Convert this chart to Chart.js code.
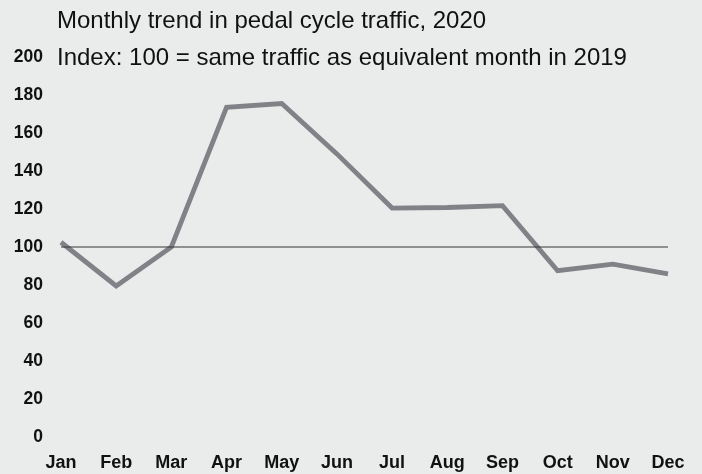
<!DOCTYPE html>
<html>
<head>
<meta charset="utf-8">
<script src="https://cdn.jsdelivr.net/npm/chart.js@4"></script>
<style>
  html, body { margin: 0; padding: 0; background: #e9eceb; }
  #wrap { width: 702px; height: 474px; }
</style>
</head>
<body>
<div id="wrap"><canvas id="c" width="702" height="474"></canvas></div>
<script>
const titleText = "Monthly trend in pedal cycle traffic, 2020";
const subtitleText = "Index: 100 = same traffic as equivalent month in 2019";
const months = ["Jan","Feb","Mar","Apr","May","Jun","Jul","Aug","Sep","Oct","Nov","Dec"];
const cycleIndex = [102.5, 79.5, 100, 173.5, 175.5, 149, 120.5, 120.8, 121.8, 87.5, 91, 85.8];
const baseline = [100, 100, 100, 100, 100, 100, 100, 100, 100, 100, 100, 100];
const yTicks = [0, 20, 40, 60, 80, 100, 120, 140, 160, 180, 200];

const bgPlugin = {
  id: 'bg',
  beforeDraw(chart) {
    const ctx = chart.ctx;
    ctx.save();
    ctx.fillStyle = '#e9eceb';
    ctx.fillRect(0, 0, chart.width, chart.height);
    ctx.restore();
  }
};

const titlePlugin = {
  id: 'titles',
  afterDraw(chart) {
    const ctx = chart.ctx;
    const area = chart.chartArea;
    const yScale = chart.scales.y;
    ctx.save();
    ctx.fillStyle = '#111111';
    ctx.font = '24px "Liberation Sans", Arial, sans-serif';
    ctx.textAlign = 'left';
    ctx.textBaseline = 'middle';
    const x = area.left - 4;
    ctx.fillText(subtitleText, x, yScale.getPixelForValue(200) + 1);
    ctx.fillText(titleText, x, yScale.getPixelForValue(200) - 36);
    ctx.restore();
  }
};

new Chart(document.getElementById('c'), {
  type: 'line',
  data: {
    labels: months,
    datasets: [
      {
        label: 'Baseline',
        data: baseline,
        borderColor: '#353737',
        borderWidth: 1.1,
        pointRadius: 0,
        fill: false,
        order: 0
      },
      {
        label: 'Pedal cycles',
        data: cycleIndex,
        borderColor: '#808287',
        borderWidth: 4.8,
        pointRadius: 0,
        borderJoinStyle: 'miter',
        borderCapStyle: 'butt',
        tension: 0,
        fill: false,
        order: 1
      }
    ]
  },
  options: {
    responsive: false,
    animation: false,
    devicePixelRatio: 1,
    layout: { padding: { left: 0, right: 34, top: 57, bottom: 0 } },
    plugins: {
      legend: { display: false },
      title: { display: false },
      tooltip: { enabled: false }
    },
    scales: {
      x: {
        offset: false,
        grid: { display: false, drawTicks: false },
        border: { display: false },
        ticks: {
          color: '#111111',
          padding: 15,
          maxRotation: 0,
          autoSkip: false,
          font: { family: '"Liberation Sans", Arial, sans-serif', size: 18, weight: 'bold' }
        },
        afterFit(scale) { scale.height = 37; }
      },
      y: {
        min: 0,
        max: 200,
        afterBuildTicks(scale) { scale.ticks = yTicks.map(v => ({ value: v })); },
        grid: { display: false, drawTicks: false },
        border: { display: false },
        ticks: {
          color: '#111111',
          padding: 18,
          font: { family: '"Liberation Sans", Arial, sans-serif', size: 17.5, weight: 'bold' }
        },
        afterFit(scale) { scale.width = 61; }
      }
    }
  },
  plugins: [bgPlugin, titlePlugin]
});
</script>
</body>
</html>
